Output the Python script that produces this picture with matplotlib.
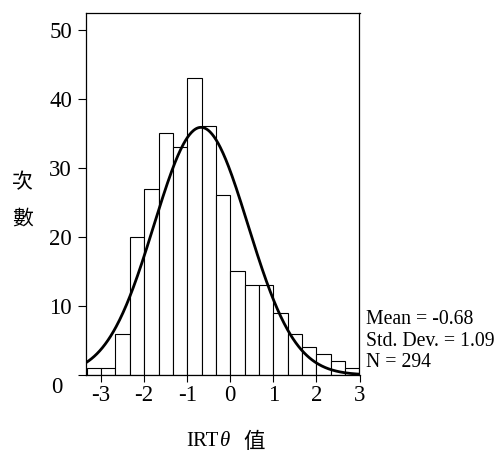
import numpy as np
import matplotlib
matplotlib.use("Agg")
import matplotlib.pyplot as plt

# ---- data ----
bin_edges = [-10/3, -3, -8/3, -7/3, -2, -5/3, -4/3, -1, -2/3, -1/3, 0,
             1/3, 2/3, 1, 4/3, 5/3, 2, 7/3, 8/3, 3]
counts = [1, 1, 6, 20, 27, 35, 33, 43, 36, 26, 15, 13, 13, 9, 6, 4, 3, 2, 1]
mean_val = -0.68
sd_val = 1.09
n_val = 294
xticks = [-3, -2, -1, 0, 1, 2, 3]
xtick_labels = ['-3', '-2', '-1', '0', '1', '2', '3']
yticks = [0, 10, 20, 30, 40, 50]
ytick_labels = ['0', '10', '20', '30', '40', '50']
stats_lines = ['Mean = -0.68', 'Std. Dev. = 1.09', 'N = 294']

serif = ['Liberation Serif', 'DejaVu Serif']
cjk = ['Noto Sans CJK TC', 'DejaVu Sans']

W, H = 504, 451
fig = plt.figure(figsize=(W/100, H/100), dpi=100)
ax = fig.add_axes([86/W, (H-375)/H, (359.5-86)/W, (375-12.5)/H])

edges = np.array(bin_edges)
widths = np.diff(edges)
ax.bar(edges[:-1], counts, width=widths, align='edge', facecolor='white',
       edgecolor='black', linewidth=0.8)

# fitted normal curve scaled to counts
xs = np.linspace(-3.35, 3.0, 400)
bw = widths.mean()
ys = n_val * bw / (sd_val * np.sqrt(2*np.pi)) * np.exp(-0.5*((xs-mean_val)/sd_val)**2)
ax.plot(xs, ys, color='black', linewidth=2.0)

ax.set_xlim(-3.35, 3.0)
ax.set_ylim(0, 52.5)
for s in ax.spines.values():
    s.set_linewidth(0.9)
    s.set_color('black')

ax.set_xticks(xticks)
ax.set_xticklabels(xtick_labels, fontfamily=serif, fontsize=16.5)
ax.set_yticks(yticks)
ax.set_yticklabels([''] + ytick_labels[1:], fontfamily=serif, fontsize=16.5)
ax.tick_params(axis='x', direction='out', length=4.8, width=0.8, pad=2.5)
ax.tick_params(axis='y', direction='out', length=5.8, width=0.8, pad=4.3)

# the "0" label sits lower-left in the original
fig.text(56.5/W, (H-387.5)/H, ytick_labels[0], fontfamily=serif, fontsize=16.5,
         ha='center', va='center')

# stats text
base_y = [324, 345.5, 366.7]
for t, by in zip(stats_lines, base_y):
    fig.text(366.5/W, (H-by)/H, t, fontfamily=serif, fontsize=14.2,
             ha='left', va='baseline')

# y label (vertical stacked characters)
fig.text(22.5/W, (H-182.5)/H, '次', fontfamily=cjk, fontsize=15, ha='center', va='center')
fig.text(22.5/W, (H-219)/H, '數', fontfamily=cjk, fontsize=15, ha='center', va='center')

# x label pieces
xb = (H-446.5)/H
fig.text(186/W, xb, 'IRT', fontfamily=serif, fontsize=15, ha='left', va='baseline')
fig.text(220/W, xb, 'θ', fontfamily=serif, fontsize=15, style='italic', ha='left', va='baseline')
fig.text(243/W, xb - 1/H, '值', fontfamily=cjk, fontsize=15.5, ha='left', va='baseline')

fig.savefig('out.png', dpi=100)
